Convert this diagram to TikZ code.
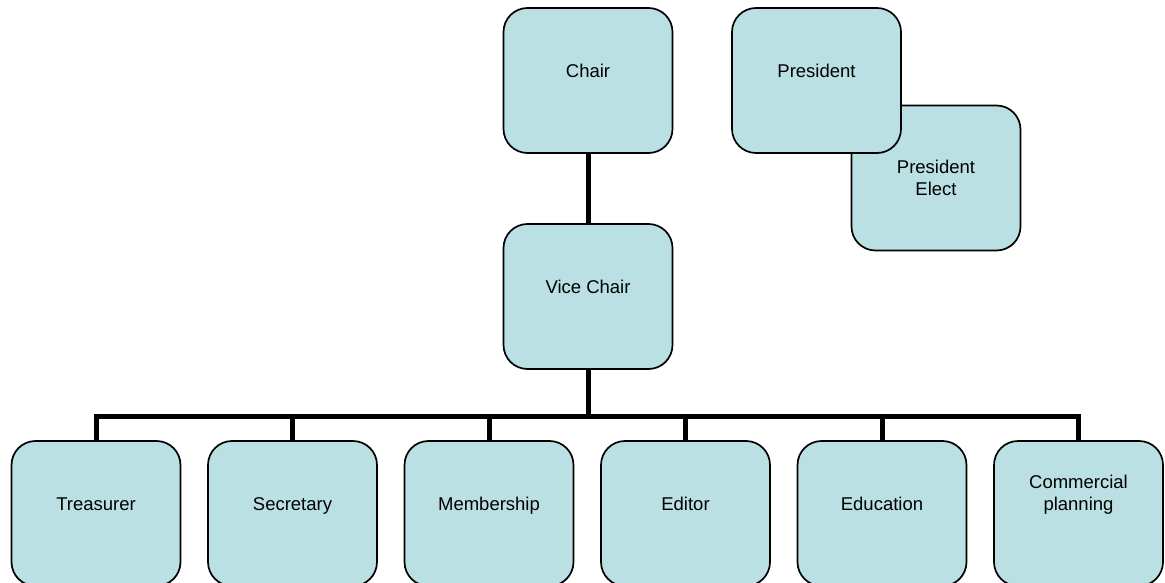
\documentclass[tikz,border=0pt]{standalone}
\usepackage{fontspec}
\setmainfont{Liberation Sans}
\usetikzlibrary{positioning}
\definecolor{boxfill}{RGB}{187,224,227}

\begin{document}
\begin{tikzpicture}[x=1pt,y=-1pt]
\tikzset{unit/.style = {shape=rectangle,rounded corners=24pt,draw,line width=1.7pt,
  fill=boxfill,minimum width=169pt,minimum height=145pt,inner sep=0pt,align=center,
  font=\fontsize{18.5}{22}\selectfont}}
\tikzset{lifted/.style = {text height=13.3pt,text depth=20pt}}
\tikzset{link/.style = {-,line width=5pt,line join=miter}}
\useasboundingbox (0,0) rectangle (1165,583);
% top
\node[unit,lifted] (chair) at (588,80.5) {Chair};
\node[unit] (elect) at (936,178) {President\\Elect};
\node[unit,lifted] (pres) at (816.5,80.5) {President};
\node[unit,lifted] (vice) at (588,296.5) {Vice Chair};
% bottom row
\node[unit,lifted] (treas) at (96,513.5) {Treasurer};
\node[unit,lifted] (secr) at (292.5,513.5) {Secretary};
\node[unit,lifted] (memb) at (489,513.5) {Membership};
\node[unit,lifted] (edit) at (685.5,513.5) {Editor};
\node[unit,lifted] (educ) at (882,513.5) {Education};
\node[unit] (comm) at (1078.5,513.5) {Commercial\\planning\\[20pt]};
\coordinate (bus) at (588,416);
% links
\draw[link] (chair) -- (vice);
\draw[link] (vice) -- (vice.south |- bus);
\draw[link] (treas.north) |- (comm.north |- bus) -- (comm.north);
\draw[link] (secr.north) -- (secr.north |- bus);
\draw[link] (memb.north) -- (memb.north |- bus);
\draw[link] (edit.north) -- (edit.north |- bus);
\draw[link] (educ.north) -- (educ.north |- bus);
\end{tikzpicture}
\end{document}
